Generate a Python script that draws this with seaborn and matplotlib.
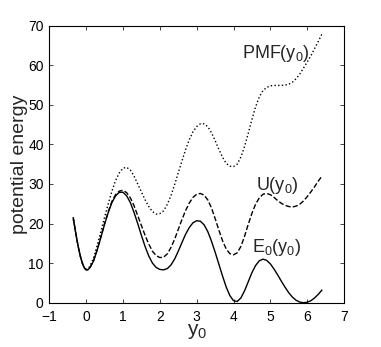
import pandas as pd
import matplotlib
matplotlib.use("Agg")
import matplotlib.pyplot as plt
import seaborn as sns

# =========================
# Datos
# =========================
y0 = [-0.35, -0.3, -0.25, -0.2, -0.15, -0.1, -0.05, 0.0, 0.05, 0.1, 0.2, 0.3, 0.4, 0.5,
      0.6, 0.7, 0.8, 0.9,
      1.0, 1.1, 1.2, 1.3, 1.4, 1.5, 1.6, 1.7, 1.8, 1.9, 2.0, 2.1, 2.2, 2.3, 2.4,
      2.5, 2.6, 2.7, 2.8, 2.9, 3.0, 3.1, 3.2, 3.3, 3.4, 3.5, 3.6, 3.7, 3.8, 3.9,
      4.0, 4.1, 4.2, 4.3, 4.4, 4.5, 4.6, 4.7, 4.8, 4.9, 5.0, 5.1, 5.2, 5.3, 5.4,
      5.5, 5.6, 5.7, 5.8, 5.9, 6.0, 6.1, 6.2, 6.3, 6.4]

E0 = [21.5, 18.6, 15.9, 13.5, 11.5, 9.9, 8.8, 8.3, 8.35, 8.8, 10.5, 13.3, 16.5, 19.8,
      22.8, 25.3, 27.0, 27.9,
      27.9, 27.0, 25.3, 22.8, 20.0, 17.0, 14.2, 11.8, 10.0, 8.9, 8.4, 8.3, 8.6, 9.5, 11.0,
      13.0, 15.2, 17.3, 19.0, 20.2, 20.7, 20.6, 19.7, 18.0, 15.6, 12.8, 9.8, 6.8, 4.0, 1.8,
      0.5, 0.3, 1.2, 3.0, 5.3, 7.6, 9.4, 10.6, 11.0, 10.7, 9.8, 8.5, 7.0, 5.4, 3.9,
      2.5, 1.4, 0.6, 0.15, 0.0, 0.1, 0.5, 1.2, 2.1, 3.2]

U = [21.5, 18.6, 15.9, 13.5, 11.5, 9.9, 8.8, 8.3, 8.35, 8.8, 10.6, 13.4, 16.7, 20.0,
     23.0, 25.6, 27.3, 28.2,
     28.4, 27.8, 26.5, 24.5, 22.0, 19.5, 17.0, 14.8, 13.0, 11.9, 11.4, 11.5, 12.3, 13.9, 16.0,
     18.5, 21.0, 23.3, 25.2, 26.6, 27.4, 27.6, 27.2, 26.0, 24.0, 21.3, 18.4, 15.7, 13.6, 12.4,
     12.1, 12.6, 14.2, 16.8, 19.8, 22.6, 24.9, 26.5, 27.4, 27.6, 27.3, 26.6, 25.8, 25.1, 24.6,
     24.3, 24.2, 24.4, 24.9, 25.7, 26.8, 28.0, 29.3, 30.7, 32.0]

PMF = [21.0, 18.4, 15.8, 13.4, 11.4, 9.9, 8.9, 8.4, 8.6, 9.2, 11.3, 14.5, 18.0, 21.6,
       25.0, 28.2, 30.9, 32.8,
       34.0, 34.2, 33.5, 32.0, 30.0, 28.0, 26.0, 24.3, 23.0, 22.4, 22.5, 23.2, 24.8, 27.0, 29.8,
       32.8, 35.8, 38.7, 41.2, 43.2, 44.5, 45.2, 45.2, 44.5, 43.0, 41.0, 38.8, 36.8, 35.2, 34.5,
       34.4, 35.0, 36.8, 39.5, 42.8, 46.3, 49.5, 52.0, 53.6, 54.4, 54.8, 54.9, 54.9, 54.9, 55.0,
       55.2, 55.7, 56.6, 57.8, 59.3, 60.8, 62.4, 64.2, 66.0, 67.9]

etiquetas = ["PMF(y$_0$)", "U(y$_0$)", "E$_0$(y$_0$)"]
pos_etiquetas = [(5.15, 63.0), (5.2, 29.5), (5.18, 14.0)]

df = pd.DataFrame({"y0": y0, "E0": E0, "U": U, "PMF": PMF})

# =========================
# Grafico
# =========================
sns.set_theme(style="ticks")
plt.rcParams["font.family"] = ["Liberation Sans", "DejaVu Sans"]
plt.rcParams["mathtext.default"] = "regular"

fig = plt.figure(figsize=(3.81, 3.47), dpi=100)
ax = fig.add_axes([0.1294, 0.1277, 0.7736, 0.7983])

sns.lineplot(data=df, x="y0", y="PMF", ax=ax, color="black", linestyle=":", linewidth=1.0)
sns.lineplot(data=df, x="y0", y="U", ax=ax, color="black", linestyle="--", linewidth=1.0)
sns.lineplot(data=df, x="y0", y="E0", ax=ax, color="black", linestyle="-", linewidth=1.0)

for texto, (tx, ty) in zip(etiquetas, pos_etiquetas):
    ax.text(tx, ty, texto, fontsize=13, ha="center", va="center")

ax.set_xlim(-1, 7)
ax.set_ylim(0, 70)
ax.set_xticks(range(-1, 8))
ax.set_yticks(range(0, 71, 10))
ax.tick_params(direction="in", top=True, right=True, labelsize=10, length=3, width=0.6,
               labelcolor="black")
ax.tick_params(axis="x", pad=5)
ax.tick_params(axis="y", pad=4)
for s in ax.spines.values():
    s.set_linewidth(0.8)
    s.set_color("black")
ax.set_xlabel("y$_0$", fontsize=15, labelpad=-1)
ax.set_ylabel("potential energy", fontsize=14, labelpad=0)

fig.savefig("out.png", dpi=100)
